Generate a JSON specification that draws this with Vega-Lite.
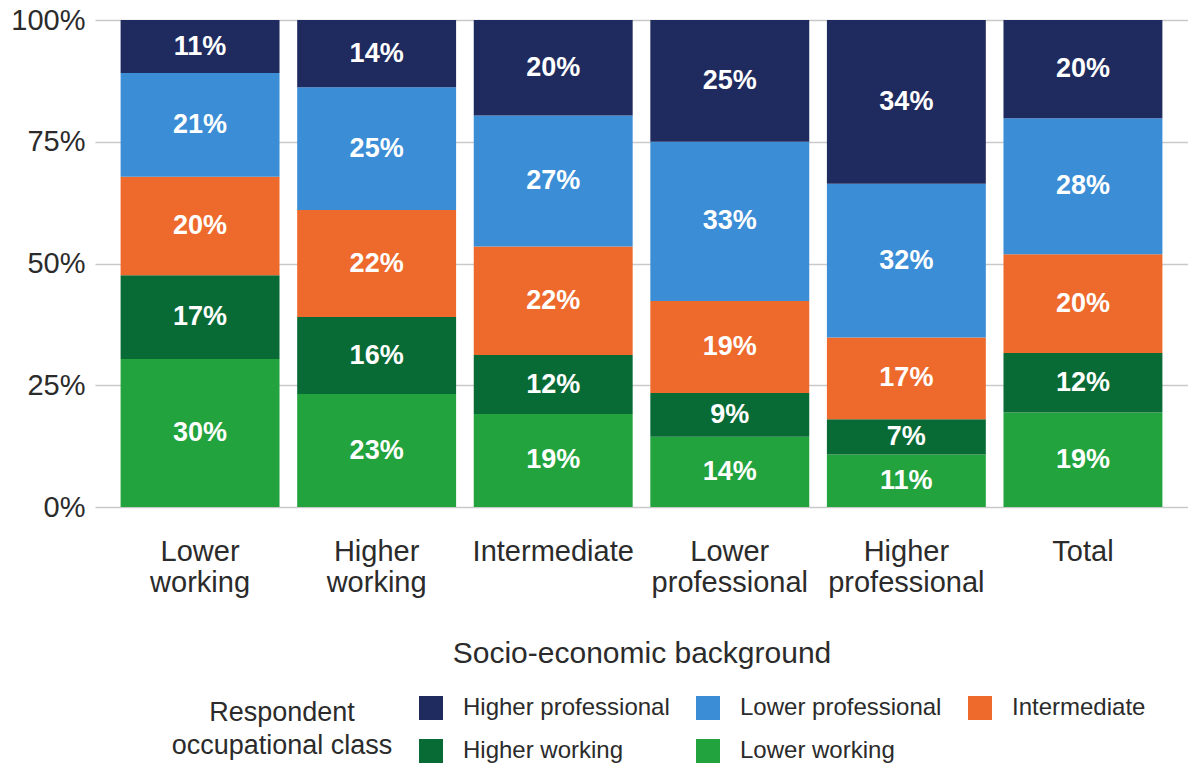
{
  "$schema": "https://vega.github.io/schema/vega-lite/v6.json",
  "width": 1093,
  "height": 487,
  "autosize": {"type": "none"},
  "padding": {"left": 95, "top": 20, "right": 0, "bottom": 262},
  "config": {"view": {"stroke": null}, "font": "Liberation Sans", "background": "white"},
  "data": {"values": [
    {"bg": "Lower working", "cls": "Lower working", "k": 1, "pct": 0.304},
    {"bg": "Lower working", "cls": "Higher working", "k": 2, "pct": 0.172},
    {"bg": "Lower working", "cls": "Intermediate", "k": 3, "pct": 0.202},
    {"bg": "Lower working", "cls": "Lower professional", "k": 4, "pct": 0.213},
    {"bg": "Lower working", "cls": "Higher professional", "k": 5, "pct": 0.109},
    {"bg": "Higher working", "cls": "Lower working", "k": 1, "pct": 0.232},
    {"bg": "Higher working", "cls": "Higher working", "k": 2, "pct": 0.158},
    {"bg": "Higher working", "cls": "Intermediate", "k": 3, "pct": 0.220},
    {"bg": "Higher working", "cls": "Lower professional", "k": 4, "pct": 0.252},
    {"bg": "Higher working", "cls": "Higher professional", "k": 5, "pct": 0.138},
    {"bg": "Intermediate", "cls": "Lower working", "k": 1, "pct": 0.191},
    {"bg": "Intermediate", "cls": "Higher working", "k": 2, "pct": 0.121},
    {"bg": "Intermediate", "cls": "Intermediate", "k": 3, "pct": 0.223},
    {"bg": "Intermediate", "cls": "Lower professional", "k": 4, "pct": 0.269},
    {"bg": "Intermediate", "cls": "Higher professional", "k": 5, "pct": 0.196},
    {"bg": "Lower professional", "cls": "Lower working", "k": 1, "pct": 0.144},
    {"bg": "Lower professional", "cls": "Higher working", "k": 2, "pct": 0.090},
    {"bg": "Lower professional", "cls": "Intermediate", "k": 3, "pct": 0.189},
    {"bg": "Lower professional", "cls": "Lower professional", "k": 4, "pct": 0.327},
    {"bg": "Lower professional", "cls": "Higher professional", "k": 5, "pct": 0.250},
    {"bg": "Higher professional", "cls": "Lower working", "k": 1, "pct": 0.108},
    {"bg": "Higher professional", "cls": "Higher working", "k": 2, "pct": 0.072},
    {"bg": "Higher professional", "cls": "Intermediate", "k": 3, "pct": 0.168},
    {"bg": "Higher professional", "cls": "Lower professional", "k": 4, "pct": 0.316},
    {"bg": "Higher professional", "cls": "Higher professional", "k": 5, "pct": 0.336},
    {"bg": "Total", "cls": "Lower working", "k": 1, "pct": 0.194},
    {"bg": "Total", "cls": "Higher working", "k": 2, "pct": 0.122},
    {"bg": "Total", "cls": "Intermediate", "k": 3, "pct": 0.203},
    {"bg": "Total", "cls": "Lower professional", "k": 4, "pct": 0.279},
    {"bg": "Total", "cls": "Higher professional", "k": 5, "pct": 0.202}
  ]},
  "transform": [
    {"stack": "pct", "groupby": ["bg"], "sort": [{"field": "k", "order": "ascending"}], "as": ["v0", "v1"]},
    {"calculate": "(datum.v0 + datum.v1) / 2", "as": "mid"}
  ],
  "encoding": {
    "x": {
      "field": "bg", "type": "nominal",
      "sort": ["Lower working", "Higher working", "Intermediate", "Lower professional", "Higher professional", "Total"],
      "scale": {"paddingInner": 0.1, "paddingOuter": 0.145},
      "axis": {
        "title": "Socio-economic background",
        "titleFontSize": 30, "titleFontWeight": "normal", "titleColor": "#2b2b2b", "titlePadding": 41,
        "labelFontSize": 29, "labelColor": "#2b2b2b", "labelPadding": 30, "labelLineHeight": 31,
        "labelAngle": 0,
        "labelExpr": "datum.label == 'Intermediate' || datum.label == 'Total' ? datum.label : split(datum.label, ' ')",
        "ticks": false, "domain": false, "grid": false
      }
    }
  },
  "layer": [
    {
      "mark": {"type": "bar"},
      "encoding": {
        "y": {
          "field": "v0", "type": "quantitative",
          "scale": {"domain": [0, 1]},
          "axis": {
            "title": null, "values": [0, 0.25, 0.5, 0.75, 1], "format": ".0%",
            "labelFontSize": 29, "labelColor": "#2b2b2b", "labelPadding": 10,
            "ticks": false, "domain": false, "grid": true, "gridColor": "#c9c9c9", "gridWidth": 1.5
          }
        },
        "y2": {"field": "v1"},
        "order": {"field": "k", "type": "quantitative"},
        "color": {
          "field": "cls", "type": "nominal",
          "scale": {
            "domain": ["Higher professional", "Lower professional", "Intermediate", "Higher working", "Lower working"],
            "range": ["#1f2b5e", "#3b8dd6", "#ee6a2c", "#086b36", "#22a33d"]
          },
          "legend": {
            "orient": "none", "legendX": 77, "legendY": 676,
            "direction": "horizontal", "columns": 3,
            "title": ["Respondent", "occupational class"],
            "titleOrient": "left", "titleAnchor": "middle", "titleAlign": "center", "titleBaseline": "middle",
            "titleFontSize": 27, "titleFontWeight": "normal", "titleColor": "#2b2b2b", "titleLineHeight": 33, "titlePadding": -84, "titleLimit": 500,
            "symbolType": "square", "symbolSize": 576, "symbolStrokeWidth": 0, "symbolOpacity": 1,
            "labelFontSize": 24, "labelColor": "#2b2b2b", "labelOffset": 20, "labelLimit": 400,
            "rowPadding": 19, "columnPadding": 26
          }
        }
      }
    },
    {
      "mark": {"type": "text", "color": "white", "fontWeight": "bold", "fontSize": 27, "baseline": "middle", "align": "center"},
      "encoding": {
        "y": {"field": "mid", "type": "quantitative"},
        "text": {"field": "pct", "type": "quantitative", "format": ".0%"}
      }
    }
  ]
}
